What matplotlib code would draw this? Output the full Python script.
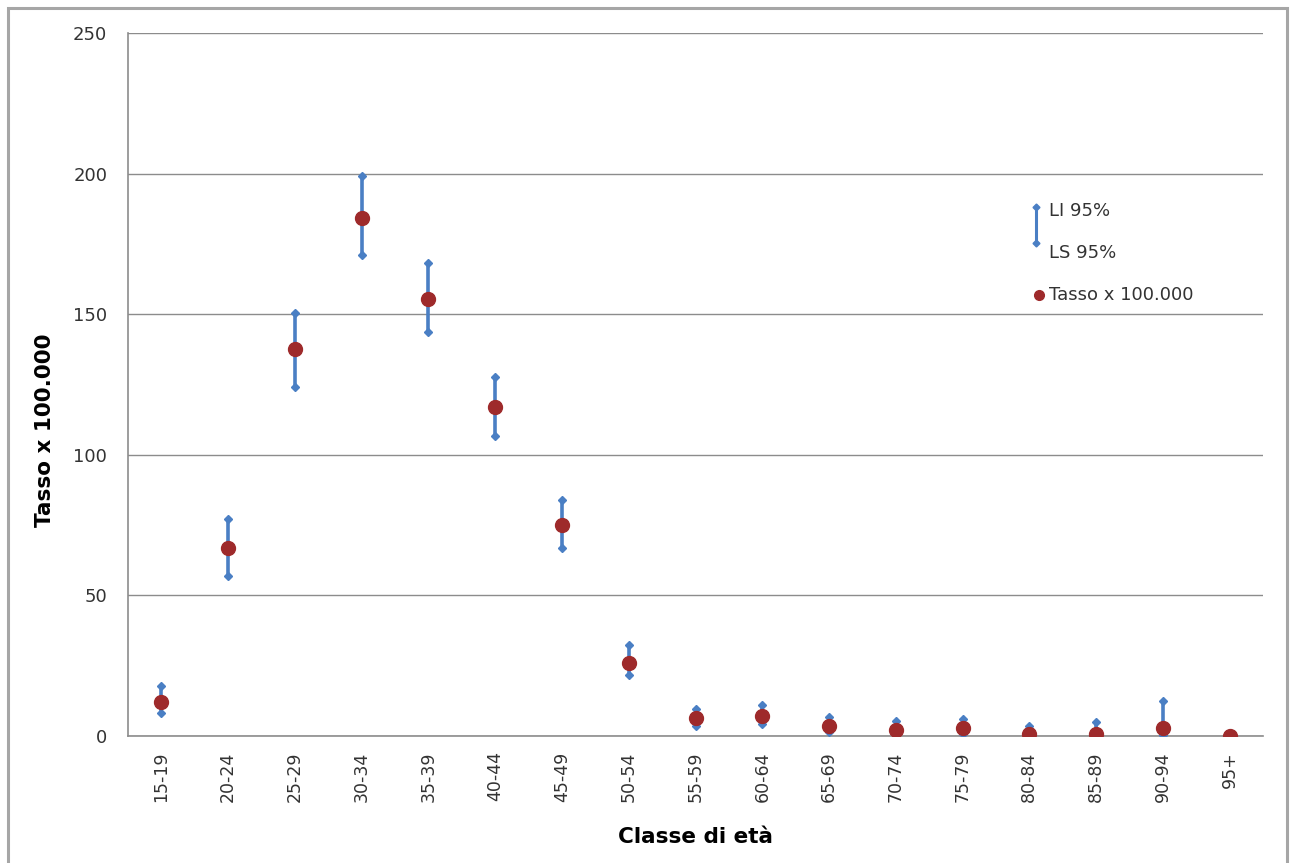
"""Tasso per 100.000 per classe di eta, con intervalli di confidenza al 95%."""

import matplotlib

matplotlib.use("Agg")

import matplotlib.pyplot as plt
from matplotlib.lines import Line2D
from matplotlib.patches import Rectangle


AGE_CLASSES = [
    "15-19", "20-24", "25-29", "30-34", "35-39", "40-44", "45-49", "50-54",
    "55-59", "60-64", "65-69", "70-74", "75-79", "80-84", "85-89", "90-94", "95+",
]
RATE = [12.2, 67.0, 137.5, 184.3, 155.5, 117.0, 75.0, 26.1,
        6.5, 7.0, 3.4, 2.0, 2.8, 0.8, 0.8, 3.0, 0.0]
LOWER_95 = [8.3, 57.0, 124.0, 171.0, 143.7, 106.8, 67.0, 21.6,
            3.5, 4.2, 1.4, 0.5, 0.8, 0.0, 0.0, 0.3, None]
UPPER_95 = [17.8, 77.3, 150.5, 199.3, 168.2, 127.7, 84.0, 32.5,
            9.6, 11.0, 6.8, 5.5, 6.2, 3.6, 4.9, 12.4, None]
Y_TICKS = [0, 50, 100, 150, 200, 250]

BLUE = "#4a7fc4"
RED = "#9e2a2b"
GRID = "#8c8c8c"
TEXT = "#333333"


def main() -> None:
    fig = plt.figure(figsize=(12.91, 8.63), dpi=100)
    fig.patches.append(Rectangle((8 / 1291, -0.01), 1279 / 1291, 855 / 863 + 0.01,
                                 transform=fig.transFigure, fill=False,
                                 edgecolor="#a6a6a6", linewidth=2.2))
    ax = fig.add_axes([128 / 1291, 127 / 863, 1135 / 1291, 703 / 863])

    positions = list(range(len(AGE_CLASSES)))
    for x, lo, hi in zip(positions, LOWER_95, UPPER_95):
        if lo is None:
            continue
        ax.plot([x, x], [lo, hi], color=BLUE, linewidth=2.6, zorder=3,
                solid_capstyle="butt")
        ax.plot([x, x], [lo, hi], linestyle="none", marker="D", markersize=4.5,
                color=BLUE, zorder=3)
    ax.plot(positions, RATE, linestyle="none", marker="o", markersize=10,
            color=RED, zorder=4)

    ax.set_xlim(-0.5, len(AGE_CLASSES) - 0.5)
    ax.set_ylim(0, 250)
    ax.set_yticks(Y_TICKS)
    ax.set_xticks(positions)
    ax.set_xticklabels(AGE_CLASSES, rotation=90, fontsize=12.5, color=TEXT)
    ax.tick_params(axis="y", length=0, pad=15, labelsize=13, labelcolor=TEXT)
    ax.tick_params(axis="x", length=0, pad=11)
    ax.grid(True, axis="y", color=GRID, linewidth=1)
    ax.set_axisbelow(True)
    for side in ("top", "right"):
        ax.spines[side].set_visible(False)
    for side in ("left", "bottom"):
        ax.spines[side].set_color(GRID)
        ax.spines[side].set_linewidth(1.2)

    ax.set_ylabel("Tasso x 100.000", fontsize=15.5, fontweight="bold")
    ax.set_xlabel("Classe di età", fontsize=15.5, fontweight="bold")
    ax.yaxis.set_label_coords((45 - 128) / 1135, (736 - 430) / 703)
    ax.xaxis.set_label_coords((696 - 128) / 1135, (736 - 837) / 703)
    ax.xaxis.label.set_verticalalignment("center")
    ax.yaxis.label.set_verticalalignment("center")

    # legend drawn like the Excel high-low legend
    leg_x = (1036 - 128) / 1135
    ax.add_line(Line2D([leg_x, leg_x], [(736 - 207) / 703, (736 - 243) / 703],
                       transform=ax.transAxes, color=BLUE, linewidth=2.2,
                       marker="D", markersize=3.5))
    ax.add_line(Line2D([(1039 - 128) / 1135], [(736 - 295) / 703],
                       transform=ax.transAxes, color=RED, marker="o",
                       markersize=7, linestyle="none"))
    text_x = (1049 - 128) / 1135
    for label, y in (("LI 95%", 211), ("LS 95%", 253), ("Tasso x 100.000", 295)):
        ax.text(text_x, (736 - y) / 703, label, transform=ax.transAxes,
                fontsize=13, color=TEXT, va="center", ha="left")

    fig.savefig("out.png", dpi=100)
    plt.close(fig)


if __name__ == "__main__":
    main()
